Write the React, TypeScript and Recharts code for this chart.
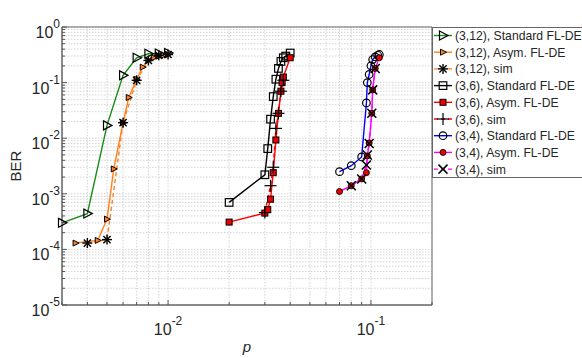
import React from "react";
import {
  LineChart,
  Line,
  XAxis,
  YAxis,
  CartesianGrid,
  Legend,
  ReferenceArea,
  Label,
} from "recharts";

// (log-log)
const p312Std = [0.003, 0.004, 0.005, 0.006, 0.007, 0.008, 0.009, 0.01];
const ber312Std = [3.0e-4, 4.4e-4, 1.7e-2, 0.135, 0.28, 0.33, 0.335, 0.34];

const p312Asym = [0.0035, 0.0045, 0.005, 0.0054, 0.006, 0.0064, 0.007, 0.0075, 0.008, 0.0085, 0.009, 0.0095, 0.01];
const ber312Asym = [1.3e-4, 1.45e-4, 3.5e-4, 2.8e-3, 0.019, 0.054, 0.115, 0.19, 0.25, 0.28, 0.3, 0.31, 0.32];

const p312Sim = [0.004, 0.005, 0.006, 0.007, 0.008, 0.009, 0.01];
const ber312Sim = [1.3e-4, 1.5e-4, 0.019, 0.11, 0.25, 0.31, 0.32];

const p36Std = [0.02, 0.03, 0.031, 0.032, 0.033, 0.034, 0.035, 0.036, 0.037, 0.038, 0.04];
const ber36Std = [7e-4, 2.2e-3, 6.5e-3, 0.022, 0.056, 0.115, 0.18, 0.24, 0.28, 0.3, 0.34];

const p36Asym = [0.02, 0.03, 0.031, 0.032, 0.033, 0.034, 0.035, 0.036, 0.0365, 0.037, 0.04];
const ber36Asym = [3.1e-4, 4.5e-4, 5.2e-4, 8e-4, 2.4e-3, 9.3e-3, 0.028, 0.07, 0.1, 0.126, 0.28];

const p36Sim = [0.03, 0.032, 0.033, 0.034, 0.035, 0.036, 0.037];
const ber36Sim = [4.6e-4, 1.4e-3, 3e-3, 0.015, 0.028, 0.07, 0.11];

const p34Std = [0.07, 0.08, 0.09, 0.095, 0.096, 0.098, 0.1, 0.102, 0.105, 0.108, 0.11];
const ber34Std = [2.5e-3, 3.2e-3, 4.6e-3, 0.043, 0.1, 0.14, 0.2, 0.26, 0.29, 0.31, 0.32];

const p34Asym = [0.07, 0.08, 0.09, 0.095, 0.096, 0.098, 0.101, 0.102, 0.105, 0.11];
const ber34Asym = [1.1e-3, 1.4e-3, 1.85e-3, 2.4e-3, 4.8e-3, 8.2e-3, 0.028, 0.074, 0.18, 0.28];

const p34Sim = [0.08, 0.09, 0.095, 0.096, 0.098, 0.101, 0.102, 0.105];
const ber34Sim = [1.4e-3, 1.85e-3, 3.3e-3, 5e-3, 8e-3, 0.028, 0.074, 0.18];

const xDecades = [1e-3, 1e-2, 1e-1];
const yDecades = [1e-5, 1e-4, 1e-3, 1e-2, 1e-1, 1];
const xDecadeLabels = ["-3", "-2", "-1"];
const yDecadeLabels = ["-5", "-4", "-3", "-2", "-1", "0"];

const X_MIN = 0.003;
const X_MAX = 0.2;
const Y_MIN = 1e-5;
const Y_MAX = 1;

const mult = [1, 2, 3, 4, 5, 6, 7, 8, 9];
const xTicks = xDecades
  .flatMap((d) => mult.map((m) => m * d))
  .filter((v) => v >= X_MIN - 1e-12 && v <= X_MAX + 1e-12);
const yTicks = yDecades
  .flatMap((d) => mult.map((m) => m * d))
  .filter((v) => v <= Y_MAX + 1e-12);

const FONT = "'Liberation Sans', Arial, sans-serif";

type Kind =
  | "triOpen"
  | "triFill"
  | "star"
  | "sqOpen"
  | "sqFill"
  | "plus"
  | "circOpen"
  | "circFill"
  | "cross";

const series: {
  name: string;
  p: number[];
  ber: number[];
  color: string;
  dash?: string;
  kind: Kind;
  fill?: string;
}[] = [
  { name: "(3,12), Standard FL-DE", p: p312Std, ber: ber312Std, color: "#1a8a1a", kind: "triOpen" },
  { name: "(3,12), Asym. FL-DE", p: p312Asym, ber: ber312Asym, color: "#ff8020", kind: "triFill", fill: "#ff8020" },
  { name: "(3,12), sim", p: p312Sim, ber: ber312Sim, color: "#ff8020", dash: "4 3", kind: "star" },
  { name: "(3,6), Standard FL-DE", p: p36Std, ber: ber36Std, color: "#000000", kind: "sqOpen" },
  { name: "(3,6), Asym. FL-DE", p: p36Asym, ber: ber36Asym, color: "#ff0000", kind: "sqFill", fill: "#ee0000" },
  { name: "(3,6), sim", p: p36Sim, ber: ber36Sim, color: "#ff0000", dash: "4 3", kind: "plus" },
  { name: "(3,4), Standard FL-DE", p: p34Std, ber: ber34Std, color: "#0000ff", kind: "circOpen" },
  { name: "(3,4), Asym. FL-DE", p: p34Asym, ber: ber34Asym, color: "#ff00ff", kind: "circFill", fill: "#ee0000" },
  { name: "(3,4), sim", p: p34Sim, ber: ber34Sim, color: "#ff00ff", dash: "4 3", kind: "cross" },
];

const Marker = ({ kind, cx, cy, fill }: { kind: Kind; cx: number; cy: number; fill?: string }) => {
  const s = { stroke: "#000", strokeWidth: 1.2 };
  switch (kind) {
    case "triOpen":
      return <polygon points={`${cx - 3.5},${cy - 4.5} ${cx + 5},${cy} ${cx - 3.5},${cy + 4.5}`} fill="none" {...s} />;
    case "triFill":
      return <polygon points={`${cx - 2.5},${cy - 3} ${cx + 3.5},${cy} ${cx - 2.5},${cy + 3}`} fill={fill} {...s} strokeWidth={1} />;
    case "star":
      return (
        <g {...s} strokeWidth={1.4}>
          <line x1={cx - 5} y1={cy} x2={cx + 5} y2={cy} />
          <line x1={cx} y1={cy - 5} x2={cx} y2={cy + 5} />
          <line x1={cx - 3.6} y1={cy - 3.6} x2={cx + 3.6} y2={cy + 3.6} />
          <line x1={cx - 3.6} y1={cy + 3.6} x2={cx + 3.6} y2={cy - 3.6} />
        </g>
      );
    case "sqOpen":
      return <rect x={cx - 3.8} y={cy - 3.8} width={7.6} height={7.6} fill="none" {...s} />;
    case "sqFill":
      return <rect x={cx - 3} y={cy - 3} width={6} height={6} fill={fill} {...s} strokeWidth={1} />;
    case "plus":
      return (
        <g {...s}>
          <line x1={cx - 6} y1={cy} x2={cx + 6} y2={cy} />
          <line x1={cx} y1={cy - 6} x2={cx} y2={cy + 6} />
        </g>
      );
    case "circOpen":
      return <circle cx={cx} cy={cy} r={3.8} fill="none" {...s} />;
    case "circFill":
      return <circle cx={cx} cy={cy} r={3} fill={fill} {...s} strokeWidth={0.9} />;
    case "cross":
      return (
        <g {...s} strokeWidth={1.5}>
          <line x1={cx - 4.5} y1={cy - 4.5} x2={cx + 4.5} y2={cy + 4.5} />
          <line x1={cx - 4.5} y1={cy + 4.5} x2={cx + 4.5} y2={cy - 4.5} />
        </g>
      );
  }
  return null;
};

const XTick = (props: any) => {
  const { x, y, payload } = props;
  const idx = xDecades.indexOf(payload.value);
  const major = idx >= 0;
  return (
    <g>
      <line x1={x} y1={y} x2={x} y2={y - (major ? 5 : 3)} stroke="#555" />
      {major && (
        <text x={x} y={y + 30} textAnchor="middle" fontFamily={FONT} fontSize={16} fill="#262626">
          10
          <tspan dy={-10} fontSize={12}>
            {xDecadeLabels[idx]}
          </tspan>
        </text>
      )}
    </g>
  );
};

const YTick = (props: any) => {
  const { x, y, payload } = props;
  const idx = yDecades.indexOf(payload.value);
  const major = idx >= 0;
  return (
    <g>
      <line x1={x} y1={y} x2={x + (major ? 5 : 3)} y2={y} stroke="#555" />
      {major && (
        <text x={x - 2} y={y + 11} textAnchor="end" fontFamily={FONT} fontSize={16} fill="#262626">
          10
          <tspan dy={-10} fontSize={12}>
            {yDecadeLabels[idx]}
          </tspan>
        </text>
      )}
    </g>
  );
};

const LegendBox = () => (
  <svg width={150} height={152} style={{ display: "block" }}>
    <rect x={0.5} y={0.5} width={200} height={150} fill="#fff" stroke="#666" />
    {series.map((s, i) => {
      const cy = 8.5 + i * 16.7;
      return (
        <g key={s.name}>
          <line x1={2} x2={20} y1={cy} y2={cy} stroke={s.color} strokeWidth={1.4} strokeDasharray={s.dash} />
          <Marker kind={s.kind} cx={11} cy={cy} fill={s.fill} />
          <text x={23} y={cy + 4.5} fontFamily={FONT} fontSize={12.2} fill="#262626">
            {s.name}
          </text>
        </g>
      );
    })}
  </svg>
);

export default function App() {
  return (
    <div style={{ position: "absolute", left: 0, top: 0, background: "#fff" }}>
      <LineChart width={582} height={358} margin={{ top: 27, right: 150, bottom: 0, left: 0 }}>
        <CartesianGrid stroke="#d4d4d4" strokeDasharray="1.5 1.5" />
        <ReferenceArea x1={X_MIN} x2={X_MAX} y1={Y_MIN} y2={Y_MAX} fill="none" stroke="#666" strokeWidth={1} />
        <XAxis
          dataKey="p"
          type="number"
          scale="log"
          domain={[X_MIN, X_MAX]}
          ticks={xTicks}
          interval={0}
          height={53}
          tickLine={false}
          tickSize={0}
          tickMargin={0}
          axisLine={{ stroke: "#666" }}
          tick={<XTick />}
        >
          <Label
            content={() => (
              <text x={247} y={352} textAnchor="middle" fontFamily={FONT} fontSize={15} fontStyle="italic" fill="#262626">
                p
              </text>
            )}
          />
        </XAxis>
        <YAxis
          dataKey="ber"
          type="number"
          scale="log"
          domain={[Y_MIN, Y_MAX]}
          ticks={yTicks}
          interval={0}
          width={62}
          tickLine={false}
          tickSize={0}
          tickMargin={0}
          axisLine={{ stroke: "#666" }}
          tick={<YTick />}
        >
          <Label
            content={() => (
              <text x={15} y={166} transform="rotate(-90 15 166)" textAnchor="middle" dominantBaseline="central" fontFamily={FONT} fontSize={15} fill="#262626">
                BER
              </text>
            )}
          />
        </YAxis>
        {series.map((s) => (
          <Line
            key={s.name}
            data={s.p.map((p, i) => ({ p, ber: s.ber[i] }))}
            dataKey="ber"
            stroke={s.color}
            strokeWidth={1.4}
            strokeDasharray={s.dash}
            isAnimationActive={false}
            activeDot={false}
            dot={(props: any) => (
              <g key={`${s.name}-${props.index}`}>
                <Marker kind={s.kind} cx={props.cx} cy={props.cy} fill={s.fill} />
              </g>
            )}
          />
        ))}
        <Legend
          layout="vertical"
          align="center"
          verticalAlign="middle"
          wrapperStyle={{ left: 432, top: 27, width: 150, height: 152 }}
          content={() => <LegendBox />}
        />
      </LineChart>
    </div>
  );
}
